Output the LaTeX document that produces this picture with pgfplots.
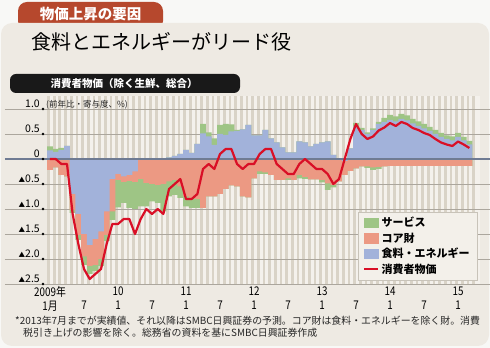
\documentclass[border=0pt]{standalone}
\usepackage{pgfplots}
\pgfplotsset{compat=1.18}
\usepackage{pgfplotstable}
\usepackage{fontspec}
\setmainfont{Liberation Sans}
\newfontfamily\jp{Noto Sans CJK JP}
\newfontfamily\jpn[FakeStretch=0.82]{Noto Sans CJK JP}
\definecolor{outer}{HTML}{F8F8F6}
\definecolor{panel}{HTML}{EEEAE3}
\definecolor{tabc}{HTML}{B6482D}
\definecolor{stripe}{HTML}{D9D3C7}
\definecolor{lightstripe}{HTML}{F4F1EC}
\definecolor{cblue}{HTML}{A2B2DA}
\definecolor{csalmon}{HTML}{EC9983}
\definecolor{cgreen}{HTML}{9EC585}
\definecolor{cred}{HTML}{D90F26}
\definecolor{gridc}{HTML}{ABA69D}
\definecolor{zeroc}{HTML}{6F7B93}
\definecolor{legbg}{HTML}{F3F0EA}
\definecolor{legbd}{HTML}{C8C3B9}
\newcommand\tri{{\fontsize{6.5}{7}\selectfont ▲}}
\newcommand\tl[2]{\strut#1\\\strut#2}

% m = months since 2009/1; bp/gp = top of blue / blue+green (positive side)
% bn/sn/gn = bottom of blue / blue+salmon / all (negative side); cpi = line
\pgfplotstableread{
m bp gp bn sn gn cpi
0 0.17 0.25 0 -0.22 -0.22 0.0
1 0.14 0.20 0 -0.17 -0.17 0.0
2 0.18 0.22 0 -0.32 -0.32 -0.1
3 0.26 0.26 0 -0.35 -0.35 -0.1
4 0 0 -0.70 -1.02 -1.08 -1.1
5 0 0 -1.10 -1.52 -1.62 -1.7
6 0 0 -1.50 -1.95 -2.12 -2.2
7 0 0 -1.72 -2.14 -2.30 -2.4
8 0 0 -1.60 -2.12 -2.24 -2.3
9 0 0 -1.45 -2.00 -2.14 -2.2
10 0 0 -1.05 -1.52 -1.64 -1.7
11 0 0 -0.40 -1.05 -1.22 -1.3
12 0 0 -0.30 -0.42 -0.97 -1.3
13 0 0 -0.35 -0.46 -0.88 -1.2
14 0 0 -0.32 -0.44 -0.98 -1.2
15 0 0 -0.25 -0.46 -1.00 -1.5
16 0 0 -0.02 -0.40 -0.95 -1.2
17 0 0 0 -0.48 -0.95 -1.0
18 0 0 0 -0.50 -0.85 -1.1
19 0 0 0 -0.52 -0.88 -1.0
20 0 0 0 -0.50 -1.05 -1.1
21 0.03 0.03 0 -0.45 -0.75 -0.6
22 0.06 0.06 0 -0.42 -0.72 -0.5
23 0.10 0.10 0 -0.55 -0.78 -0.4
24 0.18 0.18 0 -0.75 -0.95 -0.8
25 0.12 0.12 0 -0.78 -0.98 -0.8
26 0.30 0.30 0 -0.80 -0.98 -0.7
27 0.51 0.70 0 -0.98 -0.98 -0.2
28 0.45 0.53 0 -0.75 -0.75 -0.1
29 0.28 0.41 0 -0.75 -0.75 -0.2
30 0.50 0.68 0 -0.70 -0.70 0.1
31 0.48 0.70 0 -0.60 -0.60 0.2
32 0.55 0.69 0 -0.53 -0.53 0.2
33 0.56 0.58 0 -0.55 -0.55 -0.1
34 0.59 0.59 0 -0.75 -0.75 -0.2
35 0.68 0.68 0 -0.77 -0.77 -0.1
36 0.47 0.47 0 -0.39 -0.39 -0.1
37 0.47 0.47 0 -0.25 -0.30 0.1
38 0.58 0.58 0 -0.27 -0.30 0.2
39 0.41 0.41 0 -0.32 -0.32 0.2
40 0.33 0.33 0 -0.42 -0.42 -0.1
41 0.23 0.23 0 -0.42 -0.42 -0.2
42 0.13 0.13 0 -0.39 -0.42 -0.3
43 0.13 0.13 0 -0.42 -0.42 -0.3
44 0.35 0.35 0 -0.32 -0.39 -0.1
45 0.33 0.33 0 -0.36 -0.40 0.0
46 0.25 0.25 0 -0.41 -0.41 -0.1
47 0.30 0.30 0 -0.41 -0.41 -0.2
48 0.33 0.33 0 -0.42 -0.47 -0.2
49 0.35 0.35 0 -0.49 -0.62 -0.3
50 0.08 0.08 0 -0.52 -0.57 -0.5
51 0.01 0.01 0 -0.45 -0.45 -0.4
52 0 0 -0.04 -0.32 -0.32 0.0
53 0.21 0.21 0 -0.24 -0.24 0.4
54 0.65 0.72 0 -0.19 -0.19 0.7
55 0.58 0.62 0 -0.15 -0.15 0.5
56 0.50 0.53 0 -0.15 -0.18 0.4
57 0.58 0.61 0 -0.17 -0.22 0.45
58 0.70 0.74 0 -0.16 -0.20 0.57
59 0.74 0.82 0 -0.15 -0.15 0.63
60 0.78 0.88 0 -0.14 -0.14 0.72
61 0.75 0.85 0 -0.14 -0.14 0.66
62 0.80 0.90 0 -0.14 -0.14 0.74
63 0.77 0.87 0 -0.14 -0.14 0.70
64 0.71 0.80 0 -0.14 -0.14 0.62
65 0.66 0.75 0 -0.14 -0.14 0.58
66 0.61 0.70 0 -0.14 -0.14 0.52
67 0.56 0.64 0 -0.14 -0.14 0.48
68 0.50 0.58 0 -0.14 -0.14 0.40
69 0.44 0.52 0 -0.14 -0.14 0.33
70 0.40 0.47 0 -0.14 -0.14 0.29
71 0.37 0.45 0 -0.14 -0.14 0.26
72 0.44 0.52 0 -0.14 -0.14 0.35
73 0.37 0.44 0 -0.14 -0.14 0.29
74 0.29 0.36 0 -0.14 -0.14 0.22
}\data

\begin{document}
\begin{tikzpicture}[x=1pt,y=1pt]
\fill[outer] (0,0) rectangle (490,348);
\fill[tabc, rounded corners=9pt] (18,318) rectangle (163,346);
\fill[panel, rounded corners=11pt] (1,2) rectangle (489,325);
\node[text=white, font=\jp\bfseries\fontsize{14.5}{16}\selectfont] at (90.5,334) {物価上昇の要因};
\node[anchor=west, inner sep=0pt, font=\jp\fontsize{20}{22}\selectfont] at (31,306) {食料とエネルギーがリード役};
\fill[black!90, rounded corners=6pt] (10,255) rectangle (240,274);
\node[text=white, font=\jp\bfseries\fontsize{10.5}{12}\selectfont] at (124,264.5) {消費者物価（除く生鮮、総合）};

\begin{axis}[
  at={(5pt,64pt)}, anchor=south west, scale only axis,
  width=485pt, height=187.5pt,
  xmin=-7.94, xmax=77.64, ymin=-2.5, ymax=1.25,
  clip=false,
  axis line style={draw=none},
  major tick length=0pt,
  ytick={-2.5,-2,-1.5,-1,-0.5,0,0.5,1},
  yticklabels={\tri2.5,\tri2.0,\tri1.5,\tri1.0,\tri0.5,0,0.5,1.0},
  yticklabel style={anchor=base east, xshift=35pt, yshift=1.5pt, inner sep=0pt, font=\jp\fontsize{10.5}{12}\selectfont},
  xtick={0,6,...,72},
  xticklabels={{\tl{2009年}{1月}},{\tl{}{7}},{\tl{10}{1}},{\tl{}{7}},{\tl{11}{1}},{\tl{}{7}},{\tl{12}{1}},{\tl{}{7}},{\tl{13}{1}},{\tl{}{7}},{\tl{14}{1}},{\tl{}{7}},{\tl{15}{1}}},
  xticklabel style={align=center, inner sep=0pt, yshift=-2pt, font=\jpn\fontsize{12}{14}\selectfont},
  legend style={at={(0.973,0.384)}, anchor=north east, fill=legbg, draw=legbd,
    font=\jp\bfseries\fontsize{11}{13}\selectfont, inner xsep=5pt, inner ysep=3pt,
    row sep=0.5pt},
  legend cell align=left,
]
% background stripes
\fill[lightstripe] (axis cs:-0.5,-2.5) rectangle (axis cs:75.9,1.25);
\pgfplotsinvokeforeach{0,...,75}{\fill[stripe] (axis cs:#1-0.5,-2.5) rectangle (axis cs:#1,1.25);}
% horizontal grid lines
\pgfplotsinvokeforeach{1,0.5,-0.5,-1,-1.5,-2,-2.5}{\addplot[gridc, line width=0.5pt, forget plot] coordinates {(-7.94,#1) (77.64,#1)};}
% negative stack (painter's order: outermost first)
\addplot[ybar, bar width=1.03, bar shift=0pt, fill=cgreen, draw=none, forget plot] table[x=m,y=gn]{\data};
\addplot[ybar, bar width=1.03, bar shift=0pt, fill=csalmon, draw=none, forget plot] table[x=m,y=sn]{\data};
\addplot[ybar, bar width=1.03, bar shift=0pt, fill=cblue, draw=none, forget plot] table[x=m,y=bn]{\data};
% positive stack
\addplot[ybar, bar width=1.03, bar shift=0pt, fill=cgreen, draw=none, forget plot] table[x=m,y=gp]{\data};
\addplot[ybar, bar width=1.03, bar shift=0pt, fill=cblue, draw=none, forget plot] table[x=m,y=bp]{\data};
% zero line
\addplot[zeroc, line width=1.1pt, forget plot] coordinates {(-7.94,0) (77.64,0)};
% tick dots
\addplot[only marks, mark=*, mark size=1.1pt, black, forget plot] coordinates {(-1.23,1) (-1.23,0.5) (-1.23,0) (-1.23,-0.5) (-1.23,-1) (-1.23,-1.5) (-1.23,-2) (-1.23,-2.5)};
\addlegendimage{legend image code/.code={\fill[cgreen] (0pt,-4.5pt) rectangle (14pt,5pt);}}
\addlegendentry{サービス}
\addlegendimage{legend image code/.code={\fill[csalmon] (0pt,-4.5pt) rectangle (14pt,5pt);}}
\addlegendentry{コア財}
\addlegendimage{legend image code/.code={\fill[cblue] (0pt,-4.5pt) rectangle (14pt,5pt);}}
\addlegendentry{食料・エネルギー}
\addplot[cred, line width=2.2pt, line join=round,
  legend image code/.code={\draw[cred, line width=2.6pt] (0pt,0.3pt) -- (14pt,0.3pt);}]
  table[x=m,y=cpi]{\data};
\addlegendentry{消費者物価}
\end{axis}

\node[anchor=west, inner sep=0pt, text=black!85, font=\jp\fontsize{8.5}{10}\selectfont] at (46,243.5) {(前年比・寄与度、\%)};
\node[anchor=west, inner sep=0pt, text=black!85, font=\jp\fontsize{9.9}{11}\selectfont] at (15,27.5) {*2013年7月までが実績値、それ以降はSMBC日興証券の予測。コア財は食料・エネルギーを除く財。消費};
\node[anchor=west, inner sep=0pt, text=black!85, font=\jp\fontsize{9.9}{11}\selectfont] at (23,15.5) {税引き上げの影響を除く。総務省の資料を基にSMBC日興証券作成};
\pgfresetboundingbox
\useasboundingbox (0,0) rectangle (490,348);
\end{tikzpicture}
\end{document}
